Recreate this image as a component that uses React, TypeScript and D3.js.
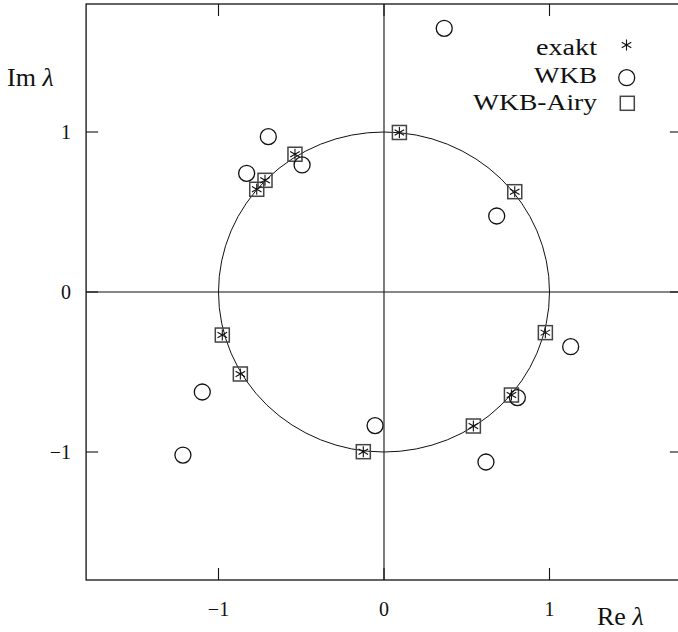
import React from "react";
import * as d3 from "d3";

// Eigenvalues in the complex plane
const exaktRe = [0.093, 0.79, 0.975, 0.77, 0.54, -0.125, -0.868, -0.977, -0.769, -0.719, -0.538];
const exaktIm = [0.997, 0.627, -0.254, -0.644, -0.8375, -0.998, -0.5125, -0.269, 0.642, 0.698, 0.861];

const wkbRe = [0.364, 0.681, 1.128, 0.806, 0.616, -0.054, -1.098, -1.215, -0.83, -0.699, -0.495];
const wkbIm = [1.648, 0.475, -0.342, -0.66, -1.0625, -0.835, -0.625, -1.019, 0.742, 0.971, 0.794];

const airyRe = [0.093, 0.79, 0.975, 0.77, 0.54, -0.125, -0.868, -0.977, -0.769, -0.719, -0.538];
const airyIm = [0.997, 0.627, -0.254, -0.644, -0.8375, -0.998, -0.5125, -0.269, 0.642, 0.698, 0.861];

const xTicks = [-1, 0, 1];
const yTicks = [-1, 0, 1];
const xTickLabels = ["\u22121", "0", "1"];
const yTickLabels = ["\u22121", "0", "1"];

const legendLabels = ["exakt", "WKB", "WKB-Airy"];

const W = 678;
const H = 632;
const FONT = "Liberation Serif, DejaVu Serif, serif";
const INK = "#111";

const Asterisk = ({ cx, cy, r }: { cx: number; cy: number; r: number }) => {
  const arms = [90, 30, -30].map((deg) => {
    const a = (deg * Math.PI) / 180;
    const dx = r * Math.cos(a);
    const dy = r * Math.sin(a);
    return `M${cx - dx},${cy + dy}L${cx + dx},${cy - dy}`;
  });
  return <path d={arms.join("")} stroke={INK} strokeWidth={1.1} fill="none" />;
};

export default function App() {
  const x = d3.scaleLinear().domain([-1.8, 1.8]).range([86.1, 681.9]);
  const y = d3.scaleLinear().domain([-1.8, 1.8]).range([580, 4]);

  const x0 = x(0);
  const y0 = y(0);
  const rx = x(1) - x(0);
  const ry = y(0) - y(1);
  const tickLen = 12;
  const sq = 14;

  const exakt = exaktRe.map((re, i) => ({ re, im: exaktIm[i] }));
  const wkb = wkbRe.map((re, i) => ({ re, im: wkbIm[i] }));
  const airy = airyRe.map((re, i) => ({ re, im: airyIm[i] }));

  const [xl, xr] = x.range();
  const [yb, yt] = y.range();

  const legendY = [55, 83, 110];
  const legendW = [61, 63, 124];

  return (
    <svg
      width={W}
      height={H}
      viewBox={`0 0 ${W} ${H}`}
      style={{ position: "absolute", left: 0, top: 0, background: "#fff" }}
    >
      <rect x={0} y={0} width={W} height={H} fill="#fff" />

      {/* zero axes */}
      <line x1={xl} x2={xr} y1={y0} y2={y0} stroke={INK} strokeWidth={1.1} />
      <line x1={x0} x2={x0} y1={yt} y2={yb} stroke={INK} strokeWidth={1.1} />

      {/* unit circle */}
      <ellipse cx={x0} cy={y0} rx={rx} ry={ry} fill="none" stroke={INK} strokeWidth={1} />

      {/* frame */}
      <rect x={xl} y={yt} width={xr - xl} height={yb - yt} fill="none" stroke={INK} strokeWidth={1.3} />

      {/* ticks */}
      {xTicks.map((t) => (
        <g key={`xt${t}`}>
          <line x1={x(t)} x2={x(t)} y1={yb} y2={yb - tickLen} stroke={INK} strokeWidth={1.1} />
          <line x1={x(t)} x2={x(t)} y1={yt} y2={yt + tickLen} stroke={INK} strokeWidth={1.1} />
        </g>
      ))}
      {yTicks.map((t) => (
        <g key={`yt${t}`}>
          <line x1={xl} x2={xl + tickLen} y1={y(t)} y2={y(t)} stroke={INK} strokeWidth={1.1} />
          <line x1={xr} x2={xr - tickLen} y1={y(t)} y2={y(t)} stroke={INK} strokeWidth={1.1} />
        </g>
      ))}

      {/* tick labels */}
      {xTicks.map((t, i) => (
        <text
          key={`xl${t}`}
          x={x(t)}
          y={616}
          textAnchor="middle"
          fontFamily={FONT}
          fontSize={20}
          fill={INK}
        >
          {xTickLabels[i]}
        </text>
      ))}
      {yTicks.map((t, i) => (
        <text
          key={`yl${t}`}
          x={71}
          y={y(t) + 7}
          textAnchor="end"
          fontFamily={FONT}
          fontSize={20}
          fill={INK}
        >
          {yTickLabels[i]}
        </text>
      ))}

      {/* axis titles */}
      <text x={7} y={86} fontFamily={FONT} fontSize={26} fill={INK}>
        Im <tspan fontStyle="italic">λ</tspan>
      </text>
      <text x={597} y={625} fontFamily={FONT} fontSize={26} fill={INK}>
        Re <tspan fontStyle="italic">λ</tspan>
      </text>

      {/* WKB-Airy squares */}
      {airy.map((d, i) => (
        <rect
          key={`sq${i}`}
          x={x(d.re) - sq / 2}
          y={y(d.im) - sq / 2}
          width={sq}
          height={sq}
          fill="none"
          stroke="#444"
          strokeWidth={1.5}
        />
      ))}

      {/* WKB circles */}
      {wkb.map((d, i) => (
        <circle key={`c${i}`} cx={x(d.re)} cy={y(d.im)} r={8} fill="none" stroke={INK} strokeWidth={1.3} />
      ))}

      {/* exact eigenvalues */}
      {exakt.map((d, i) => (
        <Asterisk key={`a${i}`} cx={x(d.re)} cy={y(d.im)} r={5.5} />
      ))}

      {/* legend */}
      {legendLabels.map((lab, i) => (
        <text
          key={lab}
          x={597 - legendW[i]}
          y={legendY[i]}
          textLength={legendW[i]}
          lengthAdjust="spacingAndGlyphs"
          fontFamily={FONT}
          fontSize={24}
          fill={INK}
        >
          {lab}
        </text>
      ))}
      <Asterisk cx={626.5} cy={45} r={5.5} />
      <circle cx={626.7} cy={77.7} r={8} fill="none" stroke={INK} strokeWidth={1.3} />
      <rect x={627.3 - 7} y={103.3 - 7} width={14} height={14} fill="none" stroke="#444" strokeWidth={1.5} />
    </svg>
  );
}
